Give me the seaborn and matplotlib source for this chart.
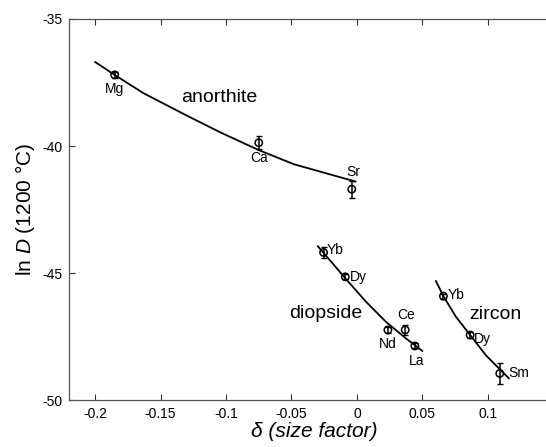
import matplotlib
matplotlib.use("Agg")
import matplotlib.pyplot as plt
import seaborn as sns
import pandas as pd

# ---------------- DATA ----------------
# anorthite
an_ions = ["Mg", "Ca", "Sr"]
an_delta = [-0.185, -0.075, -0.004]
an_lnD = [-37.2, -39.87, -41.7]
an_err = [0.13, 0.25, 0.33]
an_curve_x = [-0.200, -0.185, -0.163, -0.130, -0.104, -0.075, -0.048, -0.001]
an_curve_y = [-36.69, -37.20, -37.92, -38.80, -39.47, -40.16, -40.72, -41.40]

# diopside
di_ions = ["Yb", "Dy", "Nd", "Ce", "La"]
di_delta = [-0.0255, -0.0089, 0.0236, 0.0368, 0.0442]
di_lnD = [-44.19, -45.15, -47.24, -47.24, -47.87]
di_err = [0.23, 0.1, 0.13, 0.2, 0.1]
di_curve_x = [-0.030, -0.0186, -0.0089, 0.0069, 0.0221, 0.0373, 0.050]
di_curve_y = [-43.94, -44.62, -45.21, -46.13, -46.92, -47.57, -48.07]

# zircon
zr_ions = ["Yb", "Dy", "Sm"]
zr_delta = [0.066, 0.0864, 0.109]
zr_lnD = [-45.91, -47.44, -48.95]
zr_err = [0.1, 0.1, 0.4]
zr_curve_x = [0.0602, 0.066, 0.0755, 0.0864, 0.0983, 0.116]
zr_curve_y = [-45.31, -45.91, -46.72, -47.44, -48.23, -49.15]

x_ticks = [-0.2, -0.15, -0.1, -0.05, 0, 0.05, 0.1]
x_ticklabels = ["-0.2", "-0.15", "-0.1", "-0.05", "0", "0.05", "0.1"]
y_ticks = [-50, -45, -40, -35]
y_ticklabels = ["-50", "-45", "-40", "-35"]
# ------------------------------------------------------------

sns.set_style("ticks")
plt.rcParams["font.family"] = ["Liberation Sans", "DejaVu Sans"]
plt.rcParams["mathtext.fontset"] = "custom"
plt.rcParams["mathtext.rm"] = "Liberation Sans"
plt.rcParams["mathtext.it"] = "Liberation Sans:italic"
plt.rcParams["axes.unicode_minus"] = False
plt.rcParams["text.color"] = "black"
plt.rcParams["axes.labelcolor"] = "black"

fig = plt.figure(figsize=(5.46, 4.47), dpi=100)
ax = fig.add_axes([0.127, 0.105, 0.873, 0.8525])

groups = [
    ("anorthite", an_ions, an_delta, an_lnD, an_err, an_curve_x, an_curve_y),
    ("diopside", di_ions, di_delta, di_lnD, di_err, di_curve_x, di_curve_y),
    ("zircon", zr_ions, zr_delta, zr_lnD, zr_err, zr_curve_x, zr_curve_y),
]

for name, ions, dx, dy, err, cx, cy in groups:
    curve = pd.DataFrame({"delta": cx, "lnD": cy})
    sns.lineplot(data=curve, x="delta", y="lnD", color="black", lw=1.3, ax=ax)
    ax.errorbar(dx, dy, yerr=err, fmt="none", ecolor="black", elinewidth=1.1,
                capsize=2.5, capthick=1.0, zorder=3)
    pts = pd.DataFrame({"delta": dx, "lnD": dy})
    sns.scatterplot(data=pts, x="delta", y="lnD", marker="o", s=28,
                    facecolor="none", edgecolor="black", linewidth=1.1,
                    ax=ax, zorder=4)

# label offsets in points: (dx, dy, ha, va)
label_offsets = {
    ("anorthite", "Mg"): (0, -5, "center", "top"),
    ("anorthite", "Ca"): (0, -6, "center", "top"),
    ("anorthite", "Sr"): (1, 7, "center", "bottom"),
    ("diopside", "Yb"): (2, 2, "left", "center"),
    ("diopside", "Dy"): (3, 0, "left", "center"),
    ("diopside", "Nd"): (0, -5, "center", "top"),
    ("diopside", "Ce"): (1, 6, "center", "bottom"),
    ("diopside", "La"): (1, -6, "center", "top"),
    ("zircon", "Yb"): (3, 1, "left", "center"),
    ("zircon", "Dy"): (3, -3, "left", "center"),
    ("zircon", "Sm"): (6, 0, "left", "center"),
}
for name, ions, dx, dy, err, cx, cy in groups:
    for ion, x, y in zip(ions, dx, dy):
        ox, oy, ha, va = label_offsets[(name, ion)]
        ax.annotate(ion, (x, y), xytext=(ox, oy), textcoords="offset points",
                    ha=ha, va=va, fontsize=10)

ax.text(-0.1055, -38.08, "anorthite", ha="center", va="center", fontsize=14)
ax.text(-0.0236, -46.61, "diopside", ha="center", va="center", fontsize=14)
ax.text(0.106, -46.65, "zircon", ha="center", va="center", fontsize=14)

ax.set_xlim(-0.2196, 0.1443)
ax.set_ylim(-50, -35)
ax.set_xticks(x_ticks)
ax.set_xticklabels(x_ticklabels)
ax.set_yticks(y_ticks)
ax.set_yticklabels(y_ticklabels)
ax.tick_params(direction="in", length=4, width=0.8, labelsize=10, pad=5,
               top=True, right=False, colors="#333333", labelcolor="black")
ax.spines["right"].set_visible(False)
for s in ["left", "top", "bottom"]:
    ax.spines[s].set_color("#555555")
    ax.spines[s].set_linewidth(0.9)

ax.set_xlabel("δ (size factor)", fontsize=15, fontstyle="italic")
ax.set_ylabel(r"ln $D$ (1200 °C)", fontsize=15)
ax.xaxis.set_label_coords(0.513, -0.083)
ax.yaxis.set_label_coords(-0.093, 0.5)
ax.xaxis.label.set_va("center")
ax.yaxis.label.set_va("center")

fig.savefig("out.png", dpi=100)
